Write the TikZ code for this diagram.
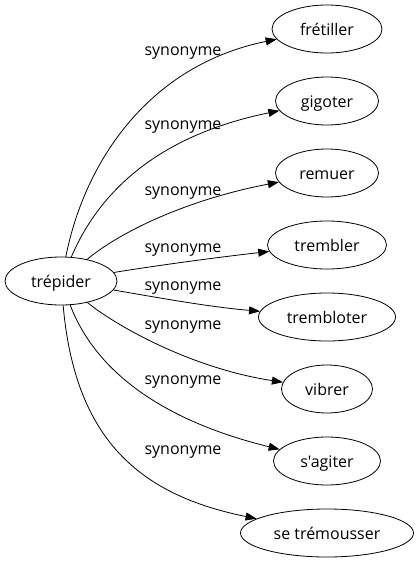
\documentclass[tikz,border=0pt]{standalone}
\usepackage{fontspec}
\setmainfont{Open Sans}[Ligatures=TeXOff]
\usepackage{tikz}
\usetikzlibrary{positioning,shapes,arrows.meta}

\begin{document}
\begin{tikzpicture}[x=1pt, y=-1pt,
  every node/.style={font=\fontsize{16}{19}\selectfont},
  word/.style={draw, ellipse, line width=0.8pt, inner sep=0pt, minimum height=48pt, text height=12pt, text depth=0pt},
  rel/.style={inner sep=0pt},
  link/.style={line width=0.8pt, -{Triangle[length=11pt, width=8pt]}}]
\useasboundingbox (0,0) rectangle (419,563);

% source word
\node[word, minimum width=112pt] (trepider) at (61,281) {trépider};

% synonyms
\node[word, minimum width=110pt] (fretiller) at (327,29) {frétiller};
\node[word, minimum width=103pt] (gigoter) at (327,101) {gigoter};
\node[word, minimum width=103pt] (remuer) at (327,173) {remuer};
\node[word, minimum width=119pt] (trembler) at (327,245) {trembler};
\node[word, minimum width=137pt] (trembloter) at (327,317) {trembloter};
\node[word, minimum width=91pt] (vibrer) at (327,389) {vibrer};
\node[word, minimum width=107pt] (sagiter) at (327,461) {s'agiter};
\node[word, minimum width=173pt] (setremousser) at (327,533) {se trémousser};

% edge labels
\node[rel] (l1) at (183,53) {synonyme};
\node[rel] (l2) at (183,127) {synonyme};
\node[rel] (l3) at (183,193) {synonyme};
\node[rel] (l4) at (183,250) {synonyme};
\node[rel] (l5) at (183,288) {synonyme};
\node[rel] (l6) at (183,327) {synonyme};
\node[rel] (l7) at (183,382) {synonyme};
\node[rel] (l8) at (183,452) {synonyme};

% edges
\draw[link] (trepider) .. controls (85,160) and (150,65) .. (fretiller);
\draw[link] (trepider) .. controls (100,190) and (160,135) .. (gigoter);
\draw[link] (trepider) .. controls (125,228) and (195,198) .. (remuer);
\draw[link] (trepider) .. controls (160,265) and (220,257) .. (trembler);
\draw[link] (trepider) .. controls (160,298) and (210,307) .. (trembloter);
\draw[link] (trepider) .. controls (115,325) and (190,368) .. (vibrer);
\draw[link] (trepider) .. controls (95,370) and (160,420) .. (sagiter);
\draw[link] (trepider) .. controls (75,440) and (140,495) .. (setremousser);
\end{tikzpicture}
\end{document}
